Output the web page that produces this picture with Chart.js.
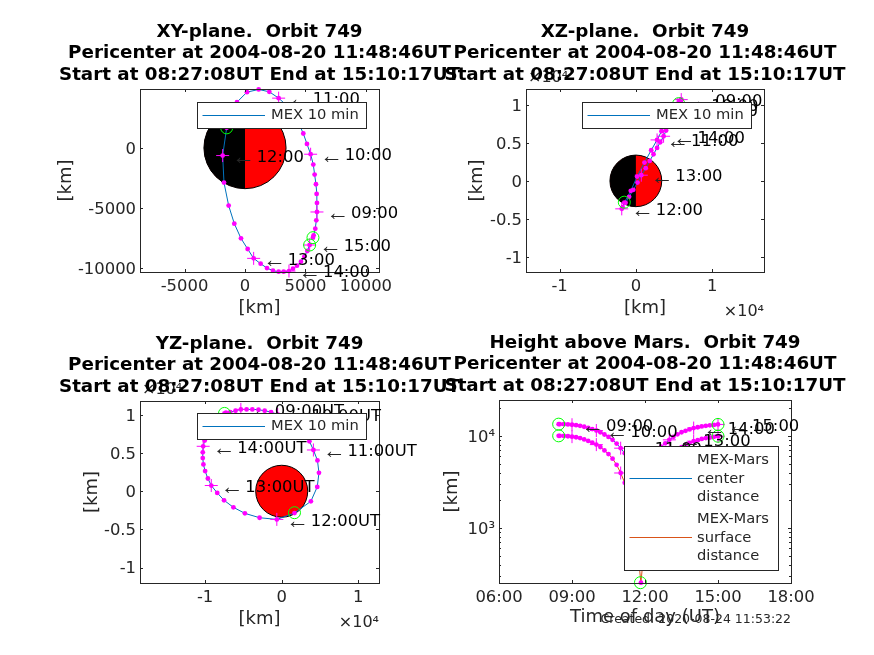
<!DOCTYPE html>
<html>
<head>
<meta charset="utf-8">
<title>MEX orbit 749</title>
<script src="https://cdn.jsdelivr.net/npm/chart.js@4"></script>
<style>
  html, body { margin: 0; background: #fff; }
  #page { position: relative; width: 874px; height: 655px; overflow: hidden; }
  canvas { position: absolute; left: 0; top: 0; }
</style>
</head>
<body>
<div id="page">
  <canvas id="xy" width="874" height="655"></canvas>
  <canvas id="xz" width="874" height="655"></canvas>
  <canvas id="yz" width="874" height="655"></canvas>
  <canvas id="height" width="874" height="655"></canvas>
</div>
<script>
// Samples: start 08:27, then every 10 min up to 15:00
const hours = [8.452, 8.5, 8.667, 8.833, 9, 9.167, 9.333, 9.5, 9.667, 9.833, 10, 10.167, 10.333, 10.5, 10.667, 10.833, 11, 11.167, 11.333, 11.5, 11.667, 11.833, 12, 12.167, 12.333, 12.5, 12.667, 12.833, 13, 13.167, 13.333, 13.5, 13.667, 13.833, 14, 14.167, 14.333, 14.5, 14.667, 14.833, 15];
const orbitX = [5620, 5675, 5813, 5896, 5951, 5951, 5923, 5868, 5758, 5648, 5427, 5124, 4821, 4436, 3940, 3361, 2783, 2011, 1130, 165, -661, -1515, -1846, -1736, -1350, -882, -331, 220, 716, 1295, 1818, 2314, 2783, 3196, 3637, 3967, 4298, 4628, 4904, 5152, 5345];
const orbitY = [-7473, -7278, -6723, -6028, -5334, -4584, -3834, -3028, -2222, -1389, -528, 333, 1195, 2084, 2917, 3611, 4139, 4667, 4862, 4639, 3806, 1667, -639, -2889, -4806, -6306, -7528, -8417, -9195, -9640, -10000, -10223, -10306, -10306, -10251, -10056, -9806, -9473, -9056, -8584, -8084];
const orbitZ = [10176, 10263, 10351, 10526, 10702, 10702, 10702, 10658, 10526, 10351, 10044, 9693, 9298, 8421, 7544, 6535, 5395, 4035, 2412, 570, -1316, -2851, -3684, -3465, -2895, -2105, -1184, -219, 746, 1667, 2632, 3509, 4342, 5088, 5877, 6632, 7412, 8070, 8597, 9035, 9386];
const centerDist = [13400, 13400, 13380, 13300, 13200, 13050, 12850, 12550, 12200, 11850, 11430, 10950, 10350, 9740, 9050, 8250, 7350, 6490, 5540, 4680, 4080, 3651, 4160, 4840, 5770, 6710, 7630, 8300, 9050, 9750, 10400, 10950, 11350, 11750, 12150, 12400, 12650, 12850, 13000, 13150, 13300];
const surfaceDist = [10004, 10004, 9984, 9904, 9804, 9654, 9454, 9154, 8804, 8454, 8034, 7554, 6954, 6344, 5654, 4854, 3954, 3094, 2144, 1284, 684, 255, 764, 1444, 2374, 3314, 4234, 4904, 5654, 6354, 7004, 7554, 7954, 8354, 8754, 9004, 9254, 9454, 9604, 9754, 9904];

// which samples are whole hours, and the labels they get
const hourIdx = [4, 10, 16, 22, 28, 34, 40];
const hourLabels = ['09:00', '10:00', '11:00', '12:00', '13:00', '14:00', '15:00'];
const endIdx = [0, 40];

// pericenter
const periX = -1515;
const periY = 1667;
const periZ = -2807;
const periHour = 11.813;
const periHeight = 255;
const marsRadius = 3396;

const xyTicksX = [-5000, 0, 5000, 10000];
const xyTicksY = [-10000, -5000, 0];
const kmTicksX = [-10000, 0, 10000];
const kmTicksY = [-10000, -5000, 0, 5000, 10000];
const timeTicks = [6, 9, 12, 15, 18];
const heightTicks = [300, 400, 500, 600, 700, 800, 900, 1000, 2000, 3000, 4000, 5000, 6000, 7000, 8000, 9000, 10000, 20000];

const titleLine2 = 'Pericenter at 2004-08-20 11:48:46UT';
const titleLine3 = 'Start at 08:27:08UT End at 15:10:17UT';
const createdText = 'Created: 2020-08-24 11:53:22';

const BLUE = '#0072BD';
const ORANGE = '#D95319';
const MAGENTA = '#ff00ff';
const GREEN = '#00ff00';
const INK = '#262626';
const FONT = '"DejaVu Sans"';

const pts = (a, b) => a.map((v, i) => ({x: v, y: b[i]}));
const pick = (list, idx) => idx.map(i => list[i]);

function lineSet(data, color) {
  return {data: data, showLine: true, borderColor: color, borderWidth: 1, pointRadius: 0, clip: false, order: 4};
}
function dotSet(data) {
  return {data: data, showLine: false, pointStyle: 'circle', pointRadius: 2.4, borderWidth: 0, backgroundColor: MAGENTA, clip: false, order: 3};
}
function crossSet(data) {
  return {data: data, showLine: false, pointStyle: 'cross', pointRadius: 6.5, pointBorderWidth: 1, pointBorderColor: MAGENTA, clip: false, order: 2};
}
function ringSet(data) {
  return {data: data, showLine: false, pointStyle: 'circle', pointRadius: 6, pointBorderWidth: 1, pointBorderColor: GREEN, pointBackgroundColor: 'rgba(0,0,0,0)', clip: false, order: 1};
}

// frame, inward ticks, mars, text on top of the plot
const panelPlugin = {
  id: 'panel',
  beforeDatasetsDraw(chart) {
    const p = chart.options.plugins.panel;
    if (!p.mars) return;
    const c = chart.ctx, sx = chart.scales.x, sy = chart.scales.y;
    const cx = sx.getPixelForValue(0), cy = sy.getPixelForValue(0);
    const rx = sx.getPixelForValue(marsRadius) - cx, ry = cy - sy.getPixelForValue(marsRadius);
    c.save();
    c.beginPath();
    c.ellipse(cx, cy, rx, ry, 0, 0, Math.PI * 2);
    c.fillStyle = '#ff0000';
    c.fill();
    if (p.mars === 'half') {
      c.beginPath();
      c.ellipse(cx, cy, rx, ry, 0, Math.PI / 2, Math.PI * 1.5);
      c.closePath();
      c.fillStyle = '#000';
      c.fill();
    }
    c.beginPath();
    c.ellipse(cx, cy, rx, ry, 0, 0, Math.PI * 2);
    c.strokeStyle = '#000';
    c.lineWidth = 1;
    c.stroke();
    c.restore();
  },
  afterDraw(chart) {
    const p = chart.options.plugins.panel;
    const c = chart.ctx, a = chart.chartArea, sx = chart.scales.x, sy = chart.scales.y;
    c.save();
    c.strokeStyle = INK;
    c.lineWidth = 1;
    c.strokeRect(a.left + 0.5, a.top + 0.5, a.right - a.left, a.bottom - a.top);
    c.beginPath();
    sx.ticks.forEach(t => {
      const x = Math.round(sx.getPixelForValue(t.value)) + 0.5;
      c.moveTo(x, a.bottom); c.lineTo(x, a.bottom - 3);
      c.moveTo(x, a.top); c.lineTo(x, a.top + 3);
    });
    sy.ticks.forEach(t => {
      const y = Math.round(sy.getPixelForValue(t.value)) + 0.5;
      const len = (p.logY && t.label === '') ? 2 : 3;
      c.moveTo(a.left, y); c.lineTo(a.left + len, y);
      c.moveTo(a.right, y); c.lineTo(a.right - len, y);
    });
    c.stroke();

    // hour labels, "<- 09:00" style
    c.textBaseline = 'middle';
    c.textAlign = 'left';
    p.hourSpots.forEach((s, i) => {
      const x = sx.getPixelForValue(s.x), y = sy.getPixelForValue(s.y);
      c.font = '23px "Liberation Sans"';
      c.fillStyle = INK;
      c.fillText('\u2190', x + 9, y + 2);
      c.font = '16.4px ' + FONT;
      c.fillStyle = '#000';
      c.fillText(hourLabels[i] + p.suffix, x + 34, y + 2);
    });

    // legend box sits on top of everything in the axes
    const g = p.legend;
    c.fillStyle = '#fff';
    c.fillRect(g.left, g.top, g.width, g.height);
    c.strokeRect(g.left + 0.5, g.top + 0.5, g.width, g.height);
    c.font = '14.7px ' + FONT;
    g.rows.forEach(r => {
      if (r.color) {
        c.strokeStyle = r.color;
        c.beginPath();
        c.moveTo(g.left + 5.5, r.y + 0.5);
        c.lineTo(g.left + 68, r.y + 0.5);
        c.stroke();
      }
      c.fillStyle = INK;
      r.text.forEach((t, i) => c.fillText(t, g.left + g.textX, r.textY + i * 18.2));
    });

    // x10^4 exponents, under the titles
    c.fillStyle = INK;
    c.font = '16px ' + FONT;
    c.textAlign = 'right';
    if (p.expBottom) c.fillText('\u00d710\u2074', a.right, a.bottom + 40);
    c.textAlign = 'left';
    if (p.expTop) c.fillText('\u00d710\u2074', a.left + 2, a.top - 11);

    // three line title
    c.fillStyle = '#000';
    c.font = 'bold 18.3px ' + FONT;
    c.textAlign = 'center';
    p.title.forEach((t, i) => c.fillText(t, (a.left + a.right) / 2, a.top - 57 + i * 21.7));

    if (p.created) {
      c.fillStyle = INK;
      c.font = '12.5px ' + FONT;
      c.textAlign = 'right';
      c.fillText(p.created, a.right, 620);
    }
    c.restore();
  }
};

function makePanel(id, o) {
  new Chart(document.getElementById(id), {
    type: 'scatter',
    data: {datasets: o.datasets},
    plugins: [panelPlugin],
    options: {
      responsive: false,
      animation: false,
      devicePixelRatio: 1,
      layout: {padding: {left: o.box[0] - o.yw, right: 874 - o.box[1], top: o.box[2], bottom: 655 - o.box[3] - o.xh}},
      plugins: {
        legend: {display: false},
        tooltip: {enabled: false},
        panel: {title: o.title, legend: o.legend, hourSpots: o.hourSpots, suffix: o.suffix || '', mars: o.mars,
                expTop: o.expTop, expBottom: o.expBottom, logY: o.logY, created: o.created}
      },
      scales: {
        x: {
          type: 'linear', min: o.xRange[0], max: o.xRange[1],
          grid: {display: false, drawTicks: false}, border: {display: false},
          title: {display: true, text: o.xTitle, color: INK, font: {family: FONT, size: 18}, padding: 0},
          ticks: {font: {family: FONT, size: 16.4}, color: INK, padding: 5, autoSkip: false, maxRotation: 0, callback: o.xFmt},
          afterBuildTicks: s => { s.ticks = o.xTicks.map(v => ({value: v})); },
          afterFit: s => { s.height = o.xh; }
        },
        y: {
          type: o.logY ? 'logarithmic' : 'linear', min: o.yRange[0], max: o.yRange[1],
          grid: {display: false, drawTicks: false}, border: {display: false},
          title: {display: true, text: '[km]', color: INK, font: {family: FONT, size: 18}, padding: 0},
          ticks: {font: {family: FONT, size: 16.4}, color: INK, padding: 4, labelOffset: 1.5, autoSkip: false, callback: o.yFmt},
          afterBuildTicks: s => { s.ticks = o.yTicks.map(v => ({value: v})); },
          afterFit: s => { s.width = o.yw; }
        }
      }
    }
  });
}

const plain = v => String(v);
const per1e4 = v => String(v / 10000);
const clock = v => String(v).padStart(2, '0') + ':00';
const pow10 = v => (v === 1000 ? '10\u00b3' : v === 10000 ? '10\u2074' : '');
const legend10 = (left, top) => ({left: left, top: top, width: 169, height: 26, textX: 74,
  rows: [{color: BLUE, y: top + 13, textY: top + 13.5, text: ['MEX 10 min']}]});

function planeSets(a, b, pa, pb) {
  return [
    ringSet(pick(pts(a, b), endIdx).concat([{x: pa, y: pb}])),
    crossSet(pick(pts(a, b), hourIdx)),
    dotSet(pts(a, b)),
    lineSet(pts(a, b), BLUE)
  ];
}

makePanel('xy', {
  box: [140, 379, 89, 272], yw: 84, xh: 47,
  xRange: [-8680, 11080], yRange: [-10330, 4900],
  xTicks: xyTicksX, yTicks: xyTicksY, xFmt: plain, yFmt: plain, xTitle: '[km]',
  title: ['XY-plane.  Orbit 749', titleLine2, titleLine3],
  datasets: planeSets(orbitX, orbitY, periX, periY),
  hourSpots: pick(pts(orbitX, orbitY), hourIdx),
  mars: 'half',
  legend: legend10(197, 102)
});

makePanel('xz', {
  box: [526, 764, 89, 272], yw: 59, xh: 47,
  xRange: [-14400, 16800], yRange: [-12000, 12100],
  xTicks: kmTicksX, yTicks: kmTicksY, xFmt: per1e4, yFmt: per1e4, xTitle: '[km]',
  title: ['XZ-plane.  Orbit 749', titleLine2, titleLine3],
  datasets: planeSets(orbitX, orbitZ, periX, periZ),
  hourSpots: pick(pts(orbitX, orbitZ), hourIdx),
  mars: 'half', expTop: true, expBottom: true,
  legend: legend10(582, 102)
});

makePanel('yz', {
  box: [140, 379, 401, 583], yw: 58, xh: 47,
  xRange: [-18500, 12700], yRange: [-12000, 11800],
  xTicks: kmTicksX, yTicks: kmTicksY, xFmt: per1e4, yFmt: per1e4, xTitle: '[km]',
  title: ['YZ-plane.  Orbit 749', titleLine2, titleLine3],
  datasets: planeSets(orbitY, orbitZ, periY, periZ),
  hourSpots: pick(pts(orbitY, orbitZ), hourIdx),
  suffix: 'UT',
  mars: 'full', expTop: true, expBottom: true,
  legend: legend10(197, 413)
});

const heightLegend = {left: 624, top: 446, width: 154, height: 124, textX: 73, rows: [
  {color: BLUE, y: 478, textY: 460.5, text: ['MEX-Mars', 'center', 'distance']},
  {color: ORANGE, y: 537, textY: 519.5, text: ['MEX-Mars', 'surface', 'distance']}
]};

makePanel('height', {
  box: [499, 791, 400, 583], yw: 57, xh: 45,
  xRange: [6, 18], yRange: [253, 24500], logY: true,
  xTicks: timeTicks, yTicks: heightTicks, xFmt: clock, yFmt: pow10, xTitle: 'Time of day (UT)',
  title: ['Height above Mars.  Orbit 749', titleLine2, titleLine3],
  datasets: [
    ringSet(pick(pts(hours, centerDist), endIdx)
      .concat(pick(pts(hours, surfaceDist), endIdx))
      .concat([{x: periHour, y: periHeight}])),
    crossSet(pick(pts(hours, centerDist), hourIdx).concat(pick(pts(hours, surfaceDist), hourIdx))),
    dotSet(pts(hours, centerDist)),
    dotSet(pts(hours, surfaceDist)),
    lineSet(pts(hours, centerDist), BLUE),
    lineSet(pts(hours, surfaceDist), ORANGE)
  ],
  hourSpots: pick(pts(hours, centerDist), hourIdx),
  legend: heightLegend,
  created: createdText
});
</script>
</body>
</html>
